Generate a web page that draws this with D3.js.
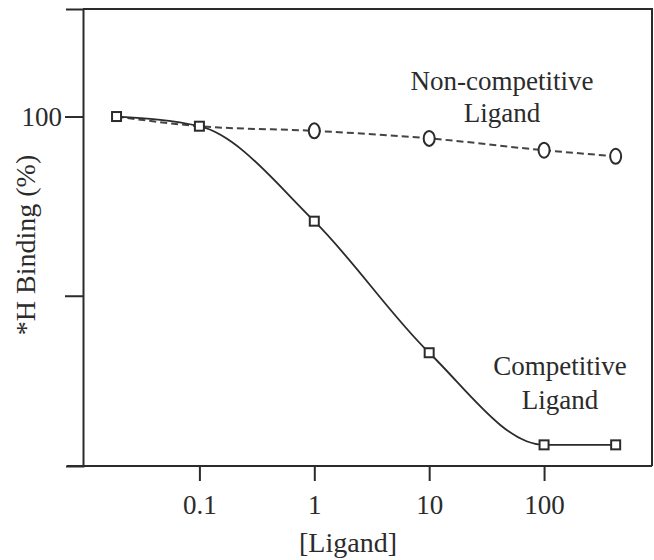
<!DOCTYPE html>
<html>
<head>
<meta charset="utf-8">
<script src="https://cdn.jsdelivr.net/npm/d3@7"></script>
<style>
  body { margin: 0; background: #fff; }
  svg text { font-family: "Liberation Serif", "Times New Roman", serif; fill: #2b2b2b; }
</style>
</head>
<body>
<div id="chart"></div>
<script>
// ligand concentrations (log axis) and % binding
const ligand = [0.019, 0.1, 1, 10, 100, 420];
const competitive = [100, 97.3, 70.8, 34.1, 8.4, 8.4];
const nonCompetitive = [100, 97.3, 96.0, 93.9, 90.6, 88.9];
const xTicks = [0.1, 1, 10, 100];
const yTicks = [50, 100];
const yLabeled = [100];

const width = 654, height = 560;
const margin = {top: 9, right: 2, bottom: 94, left: 83};

const svg = d3.select('#chart')
  .append('svg')
  .attr('width', width)
  .attr('height', height);

const xScale = d3.scaleLog()
  .domain([0.0097, 870])
  .range([margin.left, width - margin.right]);

const yScale = d3.scaleLinear()
  .domain([2.5, 130])
  .range([height - margin.bottom, margin.top]);

const ink = '#2b2b2b';

// frame: top and right edges
svg.append('path')
  .attr('d', `M${margin.left},${margin.top}H${width - margin.right}V${height - margin.bottom}`)
  .attr('fill', 'none')
  .attr('stroke', ink)
  .attr('stroke-width', 2);

// x axis
const xAxis = svg.append('g')
  .attr('transform', `translate(0,${height - margin.bottom})`)
  .call(d3.axisBottom(xScale)
    .tickValues(xTicks)
    .tickFormat(d => String(d))
    .tickSize(15)
    .tickSizeOuter(0)
    .tickPadding(14));
// extend the baseline a little to the left, like the original
xAxis.select('.domain').attr('d', `M${margin.left - 16},0H${width - margin.right}`);

// y axis
const yAxis = svg.append('g')
  .attr('transform', `translate(${margin.left},0)`)
  .call(d3.axisLeft(yScale)
    .tickValues(yTicks)
    .tickFormat(d => yLabeled.includes(d) ? String(d) : '')
    .tickSize(18)
    .tickSizeOuter(17)
    .tickPadding(3));

svg.selectAll('.domain, .tick line')
  .attr('stroke', ink)
  .attr('stroke-width', 2);
svg.selectAll('.tick text')
  .style('font-size', '27px')
  .attr('fill', ink);

// axis titles
svg.append('text')
  .attr('x', 348)
  .attr('y', 552)
  .attr('text-anchor', 'middle')
  .style('font-size', '28px')
  .text('[Ligand]');

svg.append('text')
  .attr('transform', 'translate(35,245) rotate(-90)')
  .attr('text-anchor', 'middle')
  .style('font-size', '28px')
  .text('*H Binding (%)');

const compData = ligand.map((x, i) => ({x, y: competitive[i]}));
const nonData = ligand.map((x, i) => ({x, y: nonCompetitive[i]}));

const line = d3.line()
  .x(d => xScale(d.x))
  .y(d => yScale(d.y))
  .curve(d3.curveMonotoneX);

svg.append('path')
  .datum(nonData)
  .attr('d', line)
  .attr('fill', 'none')
  .attr('stroke', '#444')
  .attr('stroke-width', 2)
  .attr('stroke-dasharray', '7,4');

svg.append('path')
  .datum(compData)
  .attr('d', line)
  .attr('fill', 'none')
  .attr('stroke', ink)
  .attr('stroke-width', 1.8);

// circles only where the two series split apart
svg.selectAll('ellipse.non')
  .data(nonData.slice(2))
  .join('ellipse')
  .attr('class', 'non')
  .attr('cx', d => xScale(d.x))
  .attr('cy', d => yScale(d.y))
  .attr('rx', 5.5)
  .attr('ry', 7.5)
  .attr('fill', '#fff')
  .attr('stroke', ink)
  .attr('stroke-width', 2);

const sq = 9;
svg.selectAll('rect.comp')
  .data(compData)
  .join('rect')
  .attr('class', 'comp')
  .attr('x', d => xScale(d.x) - sq / 2)
  .attr('y', d => yScale(d.y) - sq / 2)
  .attr('width', sq)
  .attr('height', sq)
  .attr('fill', '#fff')
  .attr('stroke', ink)
  .attr('stroke-width', 2);

// curve labels
const labels = [
  {lines: ['Non-competitive', 'Ligand'], x: 502, y: 90, gap: 32},
  {lines: ['Competitive', 'Ligand'], x: 560, y: 375, gap: 34}
];
labels.forEach(l => {
  svg.append('text')
    .attr('x', l.x)
    .attr('y', l.y)
    .attr('text-anchor', 'middle')
    .style('font-size', '27px')
    .selectAll('tspan')
    .data(l.lines)
    .join('tspan')
    .attr('x', l.x)
    .attr('dy', (d, i) => i === 0 ? 0 : l.gap)
    .text(d => d);
});
</script>
</body>
</html>
